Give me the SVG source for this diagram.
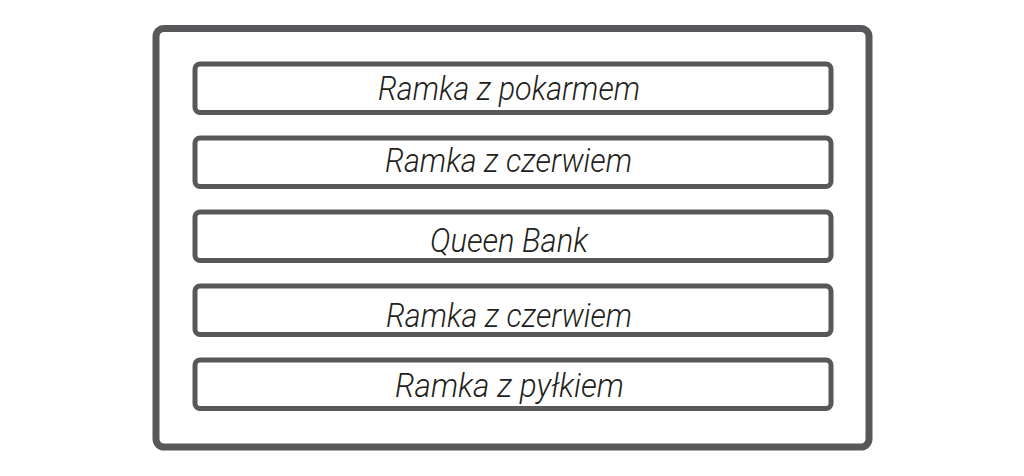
<svg xmlns="http://www.w3.org/2000/svg" width="1024" height="476" viewBox="0 0 1024 476">
<style>
.outer{fill:#fff;stroke:#58585a;stroke-width:7}
.box{fill:#fff;stroke:#58585a;stroke-width:5}
.lbl{font-family:Roboto,"Liberation Sans",sans-serif;font-style:italic;font-weight:300;font-size:33px;fill:#231f20;text-anchor:middle}
</style>
<rect width="1024" height="476" fill="#fff"/>
<g id="frame"><rect class="outer" x="156" y="28.5" width="713" height="418.5" rx="8"/></g>
<g id="n1"><rect class="box" x="195" y="64" width="636" height="48.5" rx="5"/><text class="lbl" x="509" y="99.5" textLength="262" lengthAdjust="spacingAndGlyphs">Ramka z pokarmem</text></g>
<g id="n2"><rect class="box" x="195" y="138" width="636" height="48.5" rx="5"/><text class="lbl" x="508.5" y="172" textLength="247" lengthAdjust="spacingAndGlyphs">Ramka z czerwiem</text></g>
<g id="n3"><rect class="box" x="195" y="212" width="636" height="48.5" rx="5"/><text class="lbl" x="509" y="252" textLength="158" lengthAdjust="spacingAndGlyphs">Queen Bank</text></g>
<g id="n4"><rect class="box" x="195" y="286" width="636" height="48.5" rx="5"/><text class="lbl" x="509" y="327" textLength="246" lengthAdjust="spacingAndGlyphs">Ramka z czerwiem</text></g>
<g id="n5"><rect class="box" x="195" y="360" width="636" height="48.5" rx="5"/><text class="lbl" x="509.5" y="397" textLength="229" lengthAdjust="spacingAndGlyphs">Ramka z pyłkiem</text></g>
<g id="connectors"></g>
</svg>
